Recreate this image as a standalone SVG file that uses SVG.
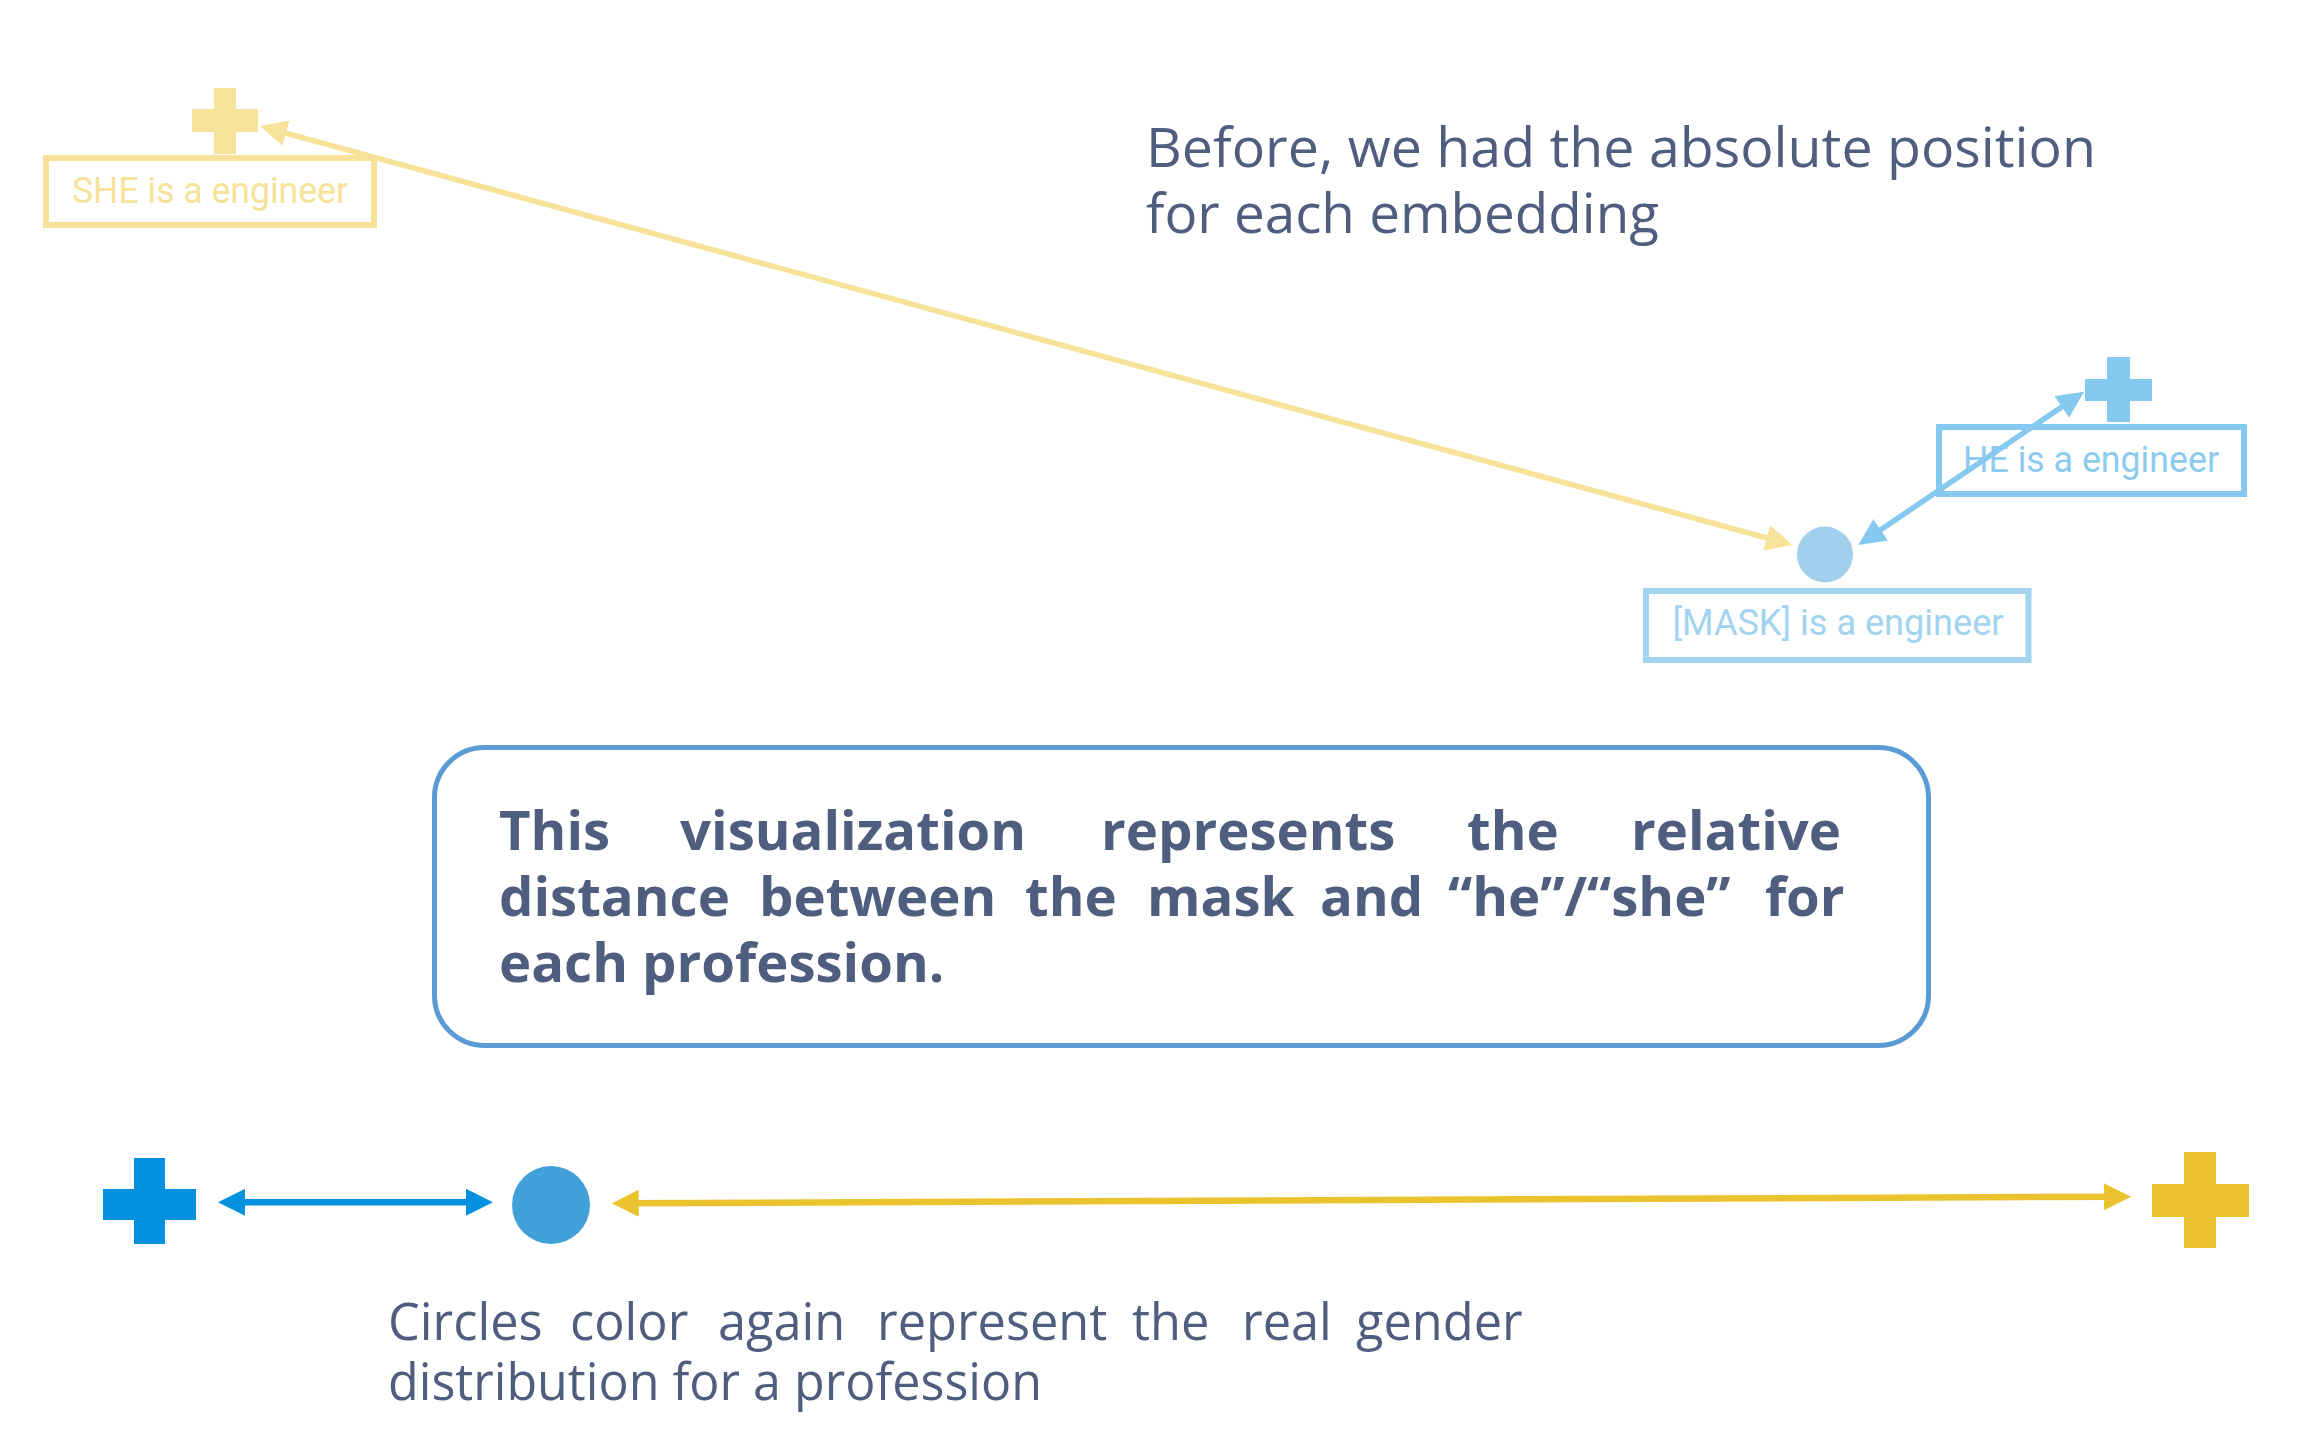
<svg xmlns="http://www.w3.org/2000/svg" width="2310" height="1444" viewBox="0 0 2310 1444">
<style>
.lbl{font-family:Roboto,"Liberation Sans",sans-serif;font-weight:400;font-size:37px;text-anchor:middle}
.note{font-family:"Open Sans","Noto Sans","Liberation Sans",sans-serif;fill:#4F5D7E}
.bold{font-weight:700;font-size:54.5px}
.reg{font-weight:400}
.box{fill:none;stroke-width:6}
</style>
<defs>
<marker id="hPaleY" markerUnits="userSpaceOnUse" markerWidth="27" markerHeight="26" refX="19" refY="13" orient="auto-start-reverse"><path d="M0,0 L27,13 L0,26 z" fill="#F6E298"/></marker>
<marker id="hLightB" markerUnits="userSpaceOnUse" markerWidth="27" markerHeight="26" refX="19" refY="13" orient="auto-start-reverse"><path d="M0,0 L27,13 L0,26 z" fill="#85C9F0"/></marker>
<marker id="hBlue" markerUnits="userSpaceOnUse" markerWidth="27" markerHeight="27" refX="19" refY="13.5" orient="auto-start-reverse"><path d="M0,0 L27,13.5 L0,27 z" fill="#0391DF"/></marker>
<marker id="hGold" markerUnits="userSpaceOnUse" markerWidth="27" markerHeight="27" refX="19" refY="13.5" orient="auto-start-reverse"><path d="M0,0 L27,13.5 L0,27 z" fill="#EBC32F"/></marker>
</defs>
<rect width="2310" height="1444" fill="#FFFFFF"/>

<g id="she-cross" fill="#F6E298">
<rect x="214" y="88" width="22" height="66"/>
<rect x="192" y="109" width="66" height="23"/>
</g>
<g id="she-label">
<rect class="box" x="46" y="158" width="328" height="67" stroke="#F6E298"/>
<text class="lbl" x="210" y="203" fill="#F6E298" textLength="276" lengthAdjust="spacingAndGlyphs">SHE is a engineer</text>
</g>

<g id="he-cross" fill="#85C9F0">
<rect x="2107" y="357" width="23" height="65"/>
<rect x="2085" y="379" width="67" height="22"/>
</g>
<g id="he-label">
<rect class="box" x="1939" y="427" width="305" height="67" stroke="#85C9F0"/>
<text class="lbl" x="2091" y="472" fill="#8CCBEF" textLength="256" lengthAdjust="spacingAndGlyphs">HE is a engineer</text>
</g>

<g id="mask-circle">
<circle cx="1825" cy="554.5" r="28" fill="#A0D0EC"/>
</g>
<g id="mask-label">
<rect class="box" x="1646" y="591" width="382.5" height="69" stroke="#A2D3EF"/>
<text class="lbl" x="1838" y="635" fill="#A2D3EF" textLength="331" lengthAdjust="spacingAndGlyphs">[MASK] is a engineer</text>
</g>

<g id="before-note">
<text class="note reg" font-size="54" x="1146" y="167" textLength="950" lengthAdjust="spacingAndGlyphs">Before, we had the absolute position</text>
<text class="note reg" font-size="54" x="1146" y="233" textLength="513" lengthAdjust="spacingAndGlyphs">for each embedding</text>
</g>

<g id="info-box">
<rect x="434.5" y="747.5" width="1494" height="298" rx="50" ry="50" fill="#FFFFFF" stroke="#5B9BD5" stroke-width="5"/>
<text class="note bold">
<tspan x="499" y="850">This</tspan><tspan x="680" y="850">visualization</tspan><tspan x="1101" y="850">represents</tspan><tspan x="1467" y="850">the</tspan><tspan x="1631" y="850">relative</tspan>
<tspan x="499" y="916">distance</tspan><tspan x="759" y="916">between</tspan><tspan x="1025" y="916">the</tspan><tspan x="1147" y="916">mask</tspan><tspan x="1320" y="916">and</tspan><tspan x="1448" y="916">“he”/“she”</tspan><tspan x="1765" y="916">for</tspan>
<tspan x="499" y="982">each profession.</tspan>
</text>
</g>

<g id="he-cross-bottom" fill="#0391DF">
<rect x="134" y="1158" width="31" height="86"/>
<rect x="103" y="1189" width="93" height="31"/>
</g>
<g id="circle-bottom">
<circle cx="551" cy="1205" r="39" fill="#41A0D8"/>
</g>
<g id="she-cross-bottom" fill="#EBC32F">
<rect x="2184" y="1152" width="32" height="96"/>
<rect x="2152" y="1184" width="97" height="33"/>
</g>

<g id="circles-note" class="note reg" font-size="50.5">
<text><tspan x="388" y="1340">Circles</tspan><tspan x="570" y="1340">color</tspan><tspan x="718" y="1340">again</tspan><tspan x="877" y="1340">represent</tspan><tspan x="1132" y="1340">the</tspan><tspan x="1242" y="1340">real</tspan><tspan x="1356" y="1340">gender</tspan></text>
<text x="388" y="1400" textLength="654" lengthAdjust="spacingAndGlyphs">distribution for a profession</text>
</g>

<g id="connectors" fill="none">
<line x1="267.7" y1="128.1" x2="1785" y2="542.9" stroke="#F6E298" stroke-width="5.5" marker-start="url(#hPaleY)" marker-end="url(#hPaleY)"/>
<line x1="1865" y1="540.5" x2="2077.5" y2="396.2" stroke="#85C9F0" stroke-width="5.5" marker-start="url(#hLightB)" marker-end="url(#hLightB)"/>
<line x1="226" y1="1202.3" x2="485" y2="1202.3" stroke="#0391DF" stroke-width="6.5" marker-start="url(#hBlue)" marker-end="url(#hBlue)"/>
<line x1="619.7" y1="1203.3" x2="2123" y2="1196.7" stroke="#EBC32F" stroke-width="6.5" marker-start="url(#hGold)" marker-end="url(#hGold)"/>
</g>
</svg>
